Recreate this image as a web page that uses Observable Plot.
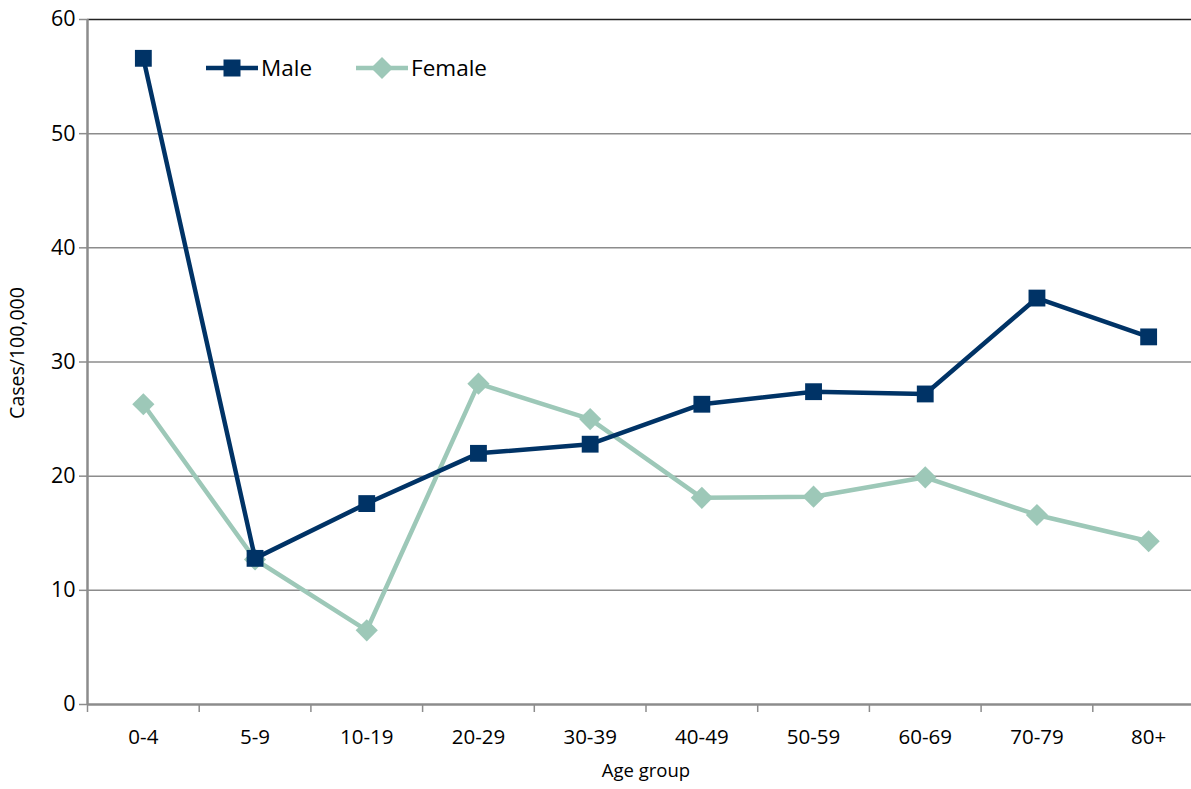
<!DOCTYPE html>
<html>
<head>
<meta charset="utf-8">
<script src="https://cdn.jsdelivr.net/npm/d3@7"></script>
<script src="https://cdn.jsdelivr.net/npm/@observablehq/plot@0.6"></script>
<style>
  html, body { margin: 0; padding: 0; background: #fff; }
  #wrap { position: relative; width: 1191px; height: 789px; font-family: "Open Sans", sans-serif; }
  #legend { position: absolute; left: 206px; top: 52px; display: flex; align-items: center; font-size: 22.5px; color: #000; }
  #legend .item { display: flex; align-items: center; margin-right: 44px; }
  #legend svg { display: block; margin-right: 3px; }
</style>
</head>
<body>
<div id="wrap">
  <div id="chart"></div>
  <div id="legend"></div>
</div>
<script>
const ageGroups = ["0-4", "5-9", "10-19", "20-29", "30-39", "40-49", "50-59", "60-69", "70-79", "80+"];
const maleValues = [56.6, 12.8, 17.6, 22.0, 22.8, 26.3, 27.4, 27.2, 35.6, 32.2];
const femaleValues = [26.3, 12.7, 6.5, 28.1, 25.0, 18.1, 18.2, 19.9, 16.6, 14.3];
const yTicks = [0, 10, 20, 30, 40, 50, 60];
const seriesNames = ["Male", "Female"];
const colors = {Male: "#003366", Female: "#9dc8b8"};

const rows = [];
ageGroups.forEach((g, i) => {
  rows.push({series: "Male", idx: i + 0.5, group: g, value: maleValues[i]});
  rows.push({series: "Female", idx: i + 0.5, group: g, value: femaleValues[i]});
});
const male = rows.filter(d => d.series === "Male");
const female = rows.filter(d => d.series === "Female");
const centers = ageGroups.map((g, i) => i + 0.5);
const bounds = d3.range(ageGroups.length + 1);

const chart = Plot.plot({
  width: 1191,
  height: 789,
  marginLeft: 87,
  marginTop: 19,
  marginBottom: 85,
  marginRight: 0,
  style: {fontFamily: "'Open Sans', sans-serif", background: "#fff", overflow: "visible"},
  x: {domain: [0, ageGroups.length], range: [87, 1204]},
  y: {domain: [0, 60]},
  marks: [
    Plot.ruleY(yTicks.filter(t => t > 0 && t < 60), {stroke: "#8c8c8c", strokeWidth: 1.5}),
    Plot.ruleY([60], {stroke: "#222", strokeWidth: 1.5}),
    Plot.axisY({ticks: yTicks, tickSize: 8, tickPadding: 4, fontSize: 21.5, stroke: "#8c8c8c", strokeWidth: 1.5, color: "#000", label: null}),
    Plot.axisX({ticks: bounds, tickSize: 8, tickFormat: () => "", stroke: "#8c8c8c", strokeWidth: 1.5, label: null}),
    Plot.axisX({ticks: centers, tickSize: 0, tickPadding: 25, fontSize: 20.5, tickFormat: d => ageGroups[Math.floor(d)], color: "#000", label: null}),
    Plot.ruleY([0], {stroke: "#8c8c8c", strokeWidth: 2.5}),
    Plot.ruleX([0], {stroke: "#8c8c8c", strokeWidth: 2.5}),
    Plot.line(female, {x: "idx", y: "value", stroke: colors.Female, strokeWidth: 4.5}),
    Plot.dot(female, {x: "idx", y: "value", symbol: "diamond2", r: 10, fill: colors.Female, stroke: "none"}),
    Plot.line(male, {x: "idx", y: "value", stroke: colors.Male, strokeWidth: 4.5}),
    Plot.dot(male, {x: "idx", y: "value", symbol: "square", r: 9.5, fill: colors.Male, stroke: "none"}),
    Plot.text(["Age group"], {frameAnchor: "bottom", dy: 72, fontSize: 18.5, fill: "#000", x: () => 5}),
    Plot.text(["Cases/100,000"], {frameAnchor: "left", textAnchor: "middle", dx: -70, dy: -9, rotate: -90, fontSize: 19.5, fill: "#000"})
  ]
});
document.getElementById("chart").appendChild(chart);

// Legend
const legend = document.getElementById("legend");
seriesNames.forEach(name => {
  const item = document.createElement("div");
  item.className = "item";
  const ns = "http://www.w3.org/2000/svg";
  const svg = document.createElementNS(ns, "svg");
  svg.setAttribute("width", 52);
  svg.setAttribute("height", 26);
  const line = document.createElementNS(ns, "line");
  line.setAttribute("x1", 0); line.setAttribute("x2", 52);
  line.setAttribute("y1", 13); line.setAttribute("y2", 13);
  line.setAttribute("stroke", colors[name]); line.setAttribute("stroke-width", 4.5);
  svg.appendChild(line);
  const shape = document.createElementNS(ns, "path");
  if (name === "Male") shape.setAttribute("d", "M17.5,4.5h17v17h-17z");
  else shape.setAttribute("d", "M26,2L37,13L26,24L15,13z");
  shape.setAttribute("fill", colors[name]);
  svg.appendChild(shape);
  item.appendChild(svg);
  const label = document.createElement("span");
  label.textContent = name;
  item.appendChild(label);
  legend.appendChild(item);
});
</script>
</body>
</html>
